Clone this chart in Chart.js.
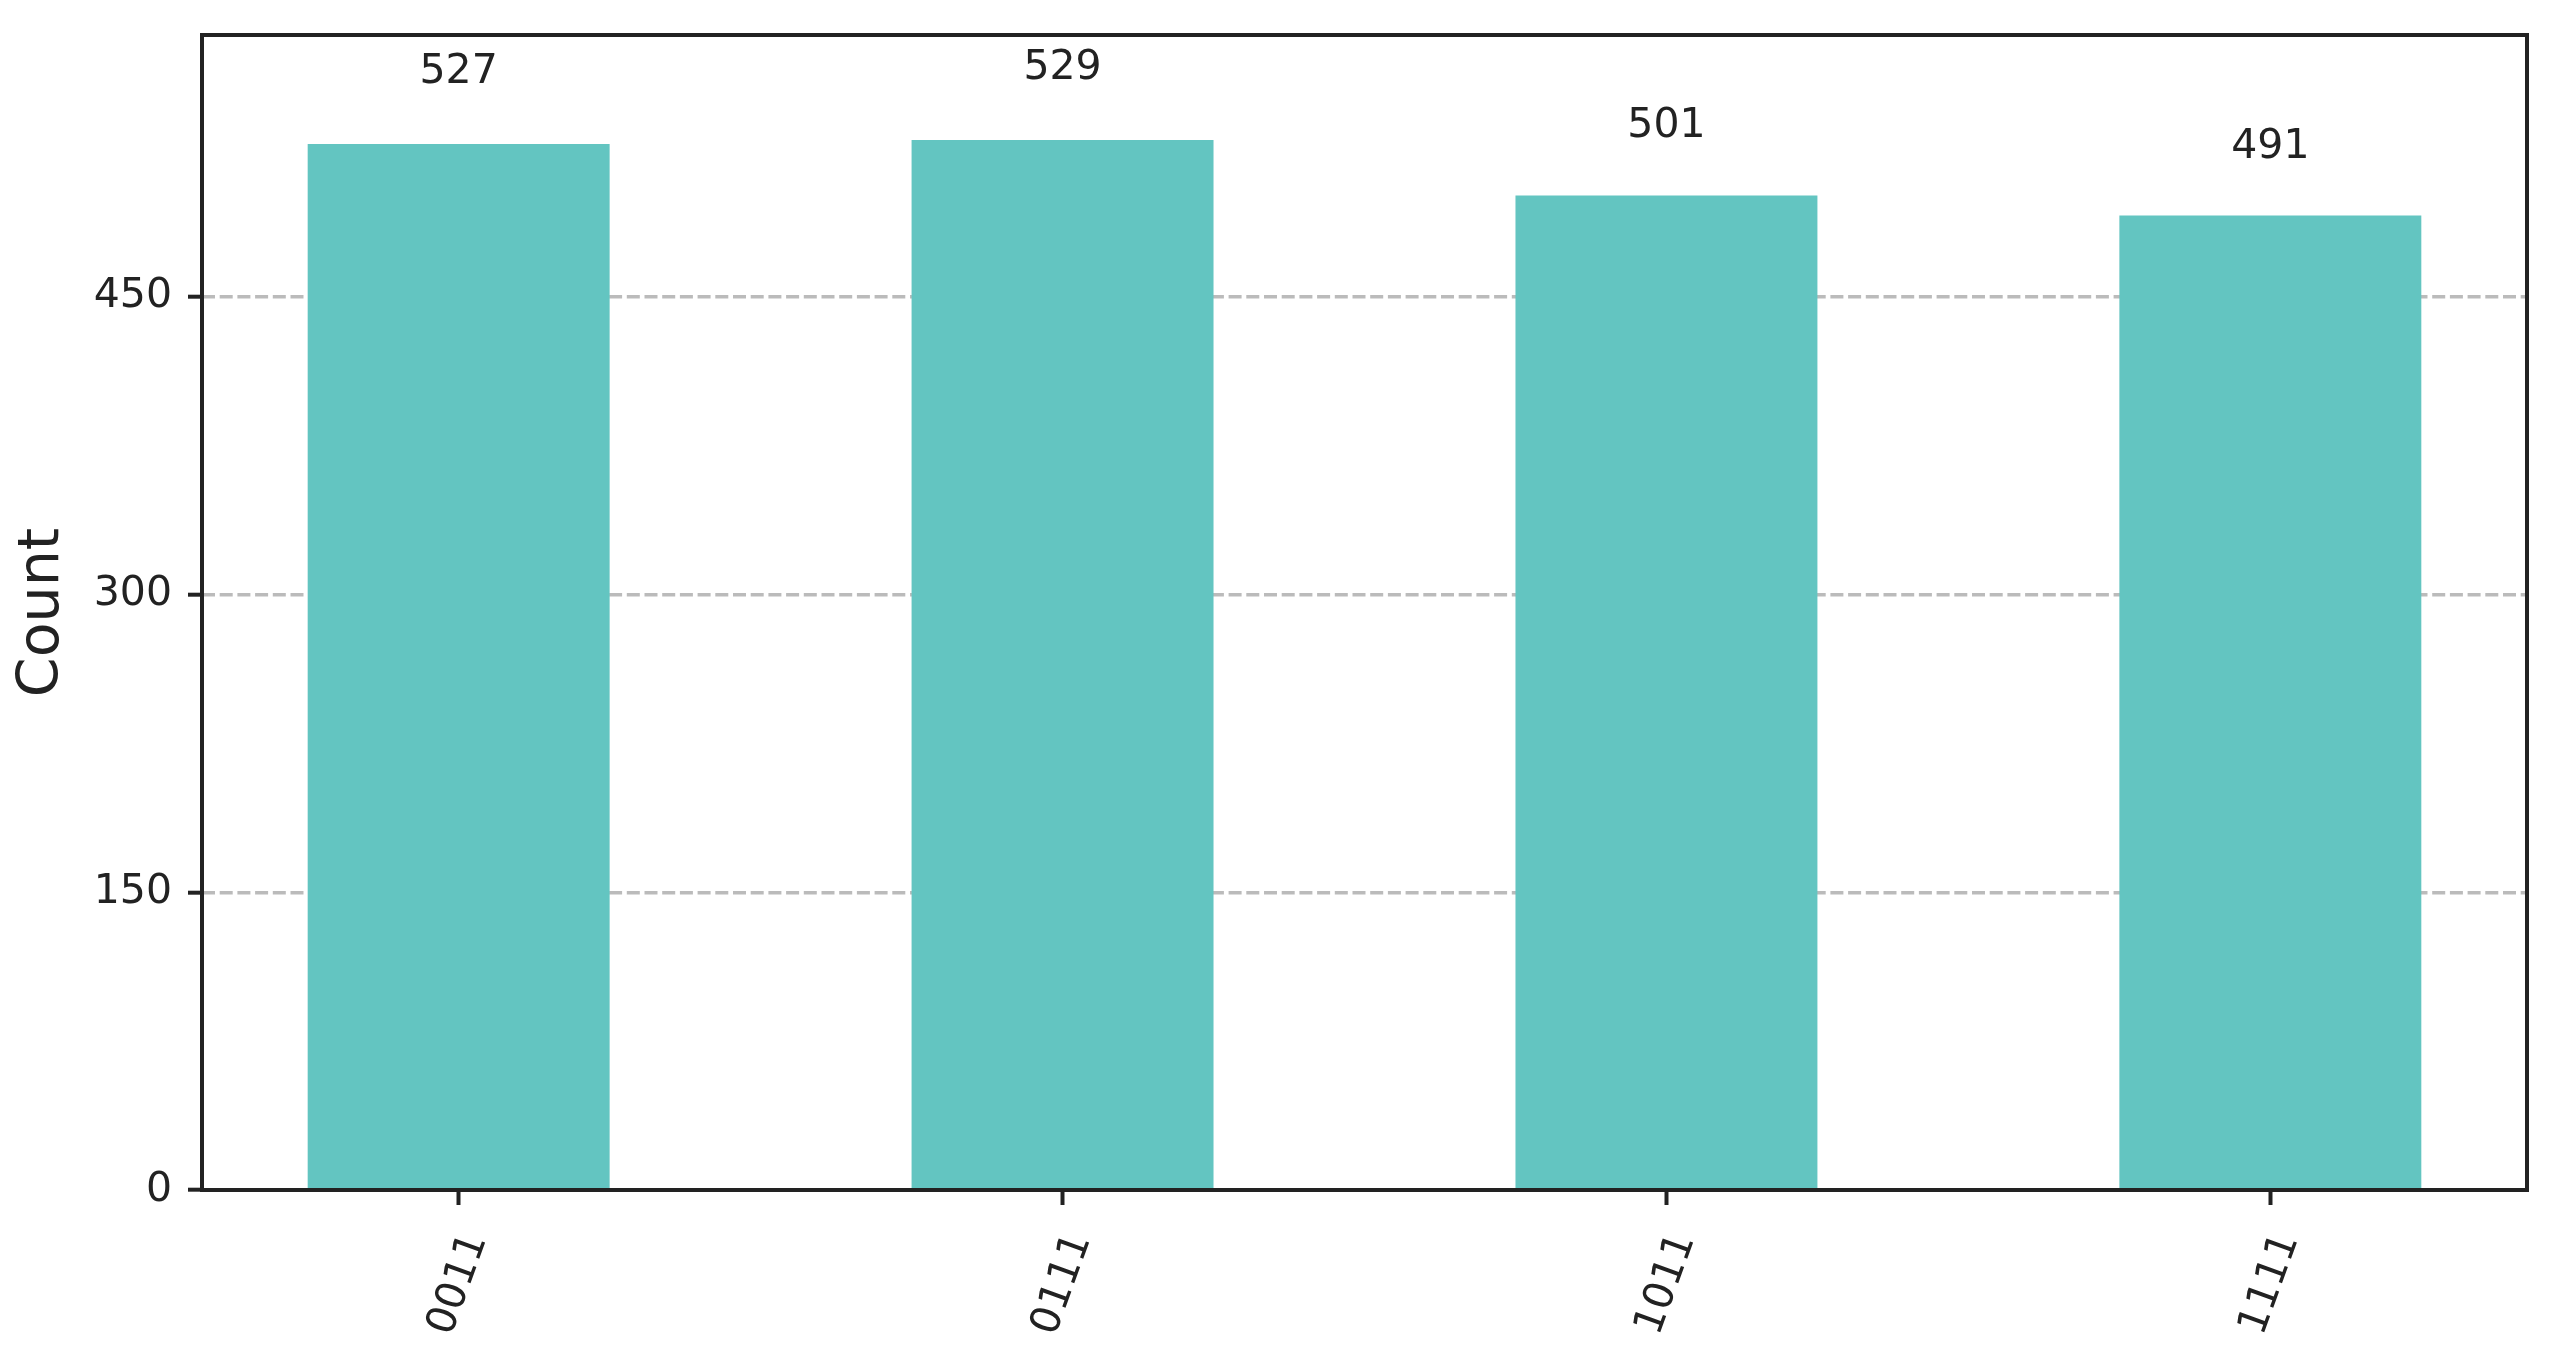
<!DOCTYPE html>
<html>
<head>
<meta charset="utf-8">
<title>Count histogram</title>
<script src="https://cdn.jsdelivr.net/npm/chart.js@4/dist/chart.umd.min.js"></script>
<style>
    html, body { margin: 0; padding: 0; background: #ffffff; }
    #wrap { width: 2550px; height: 1350px; }
</style>
</head>
<body>
<div id="wrap"><canvas id="countChart" width="2550" height="1350"></canvas></div>
<script>
const categories = ['0011', '0111', '1011', '1111'];
const counts = [527, 529, 501, 491];
const yTickValues = [0, 150, 300, 450];

const barColor = '#63c5c1';
const inkColor = '#222222';
const fontFamily = '"DejaVu Sans", sans-serif';

// value labels above bars (1.05 * height, like the matplotlib version)
const valueLabels = {
    id: 'valueLabels',
    afterDatasetsDraw(chart) {
        const ctx = chart.ctx;
        const yScale = chart.scales.y;
        const meta = chart.getDatasetMeta(0);
        ctx.save();
        ctx.font = '41px ' + fontFamily;
        ctx.fillStyle = inkColor;
        ctx.textAlign = 'center';
        ctx.textBaseline = 'alphabetic';
        meta.data.forEach((bar, i) => {
            const y = yScale.getPixelForValue(counts[i] * 1.05) - 9;
            ctx.fillText(String(counts[i]), bar.x, y);
        });
        ctx.restore();
    }
};

// full box around the plot + rotated x tick labels
const frameAndLabels = {
    id: 'frameAndLabels',
    afterDraw(chart) {
        const ctx = chart.ctx;
        const a = chart.chartArea;
        ctx.save();
        ctx.strokeStyle = inkColor;
        ctx.lineWidth = 4;
        ctx.strokeRect(a.left, a.top, a.right - a.left, a.bottom - a.top);

        const xScale = chart.scales.x;
        const angle = 70 * Math.PI / 180;
        ctx.font = '41px ' + fontFamily;
        ctx.fillStyle = inkColor;
        ctx.textAlign = 'center';
        ctx.textBaseline = 'middle';
        xScale.ticks.forEach((t, i) => {
            const label = categories[t.value];
            if (label === undefined) return;
            const w = ctx.measureText(label).width;
            const h = 41 * 0.76;
            const boxH = w * Math.sin(angle) + h * Math.cos(angle);
            const x = xScale.getPixelForValue(t.value);
            const y = xScale.top + 40 + boxH / 2;
            ctx.save();
            ctx.translate(x, y);
            ctx.rotate(-angle);
            ctx.fillText(label, 0, 0);
            ctx.restore();
        });
        ctx.restore();
    }
};

const ctx = document.getElementById('countChart').getContext('2d');

new Chart(ctx, {
    type: 'bar',
    data: {
        datasets: [{
            label: 'Count',
            data: counts.map((v, i) => ({ x: i, y: v })),
            backgroundColor: barColor,
            borderWidth: 0,
            categoryPercentage: 1.0,
            barPercentage: 0.5,
        }]
    },
    options: {
        responsive: false,
        animation: false,
        devicePixelRatio: 1,
        layout: {
            padding: { top: 35, right: 23, left: 0, bottom: 0 }
        },
        plugins: {
            legend: { display: false },
            tooltip: { enabled: false },
        },
        scales: {
            x: {
                type: 'linear',
                offset: false,
                min: -0.425,
                max: categories.length - 1 + 0.425,
                afterBuildTicks: scale => {
                    scale.ticks = categories.map((c, i) => ({ value: i }));
                },
                afterFit: scale => {
                    scale.height = 160;
                    scale.paddingLeft = 0;
                    scale.paddingRight = 0;
                },
                ticks: { display: false },
                grid: {
                    offset: false,
                    drawOnChartArea: false,
                    drawTicks: true,
                    tickLength: 15,
                    tickColor: inkColor,
                    tickWidth: 4,
                },
                border: { display: false },
            },
            y: {
                min: 0,
                max: Math.max(...counts) * 1.1,
                afterBuildTicks: scale => {
                    scale.ticks = yTickValues.map(v => ({ value: v }));
                },
                afterFit: scale => {
                    scale.width = 202;
                    scale.paddingTop = 0;
                    scale.paddingBottom = 0;
                },
                ticks: {
                    color: inkColor,
                    font: { family: fontFamily, size: 41 },
                    padding: 16,
                },
                grid: {
                    color: '#bbbbbb',
                    lineWidth: 3.4,
                    drawTicks: true,
                    tickLength: 14,
                    tickColor: inkColor,
                    tickWidth: 4,
                    tickBorderDash: [],
                },
                border: { display: false, dash: [13, 4.7] },
                title: {
                    display: true,
                    text: 'Count',
                    color: inkColor,
                    font: { family: fontFamily, size: 57 },
                    padding: { top: 9, bottom: 0 },
                },
            },
        },
    },
    plugins: [valueLabels, frameAndLabels],
});
</script>
</body>
</html>
